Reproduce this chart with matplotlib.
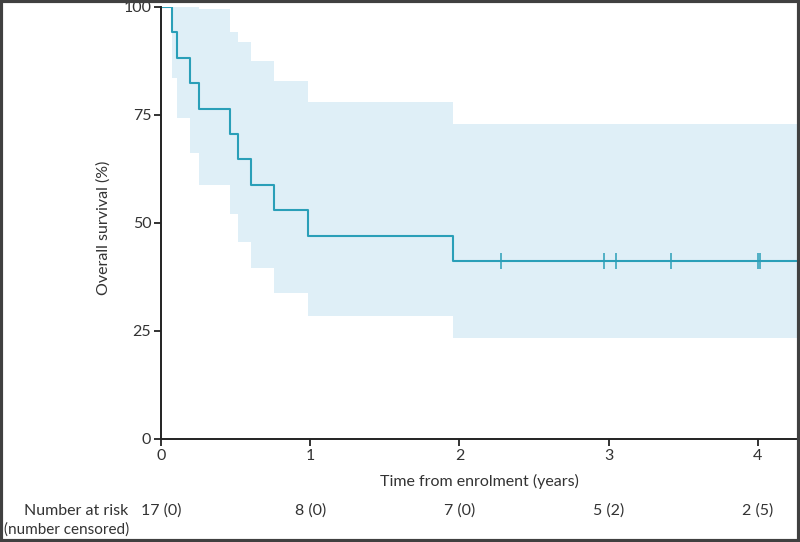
import matplotlib.pyplot as plt
from matplotlib.patches import Rectangle
from matplotlib.transforms import blended_transform_factory

plt.rcParams['font.family'] = ['Lato', 'DejaVu Sans']

# Kaplan-Meier step times (years) and survival (%)
event_times = [0, 0.076, 0.11, 0.195, 0.257, 0.465, 0.514, 0.605, 0.757, 0.983, 1.96]
survival = [100, 94.1, 88.2, 82.4, 76.5, 70.6, 64.7, 58.8, 52.9, 47.1, 41.2]
ci_upper = [100, 100, 100, 100, 99.5, 94.3, 92.0, 87.5, 82.9, 77.9, 72.9]
ci_lower = [100, 83.6, 74.4, 66.1, 58.8, 52.1, 45.7, 39.5, 33.9, 28.4, 23.4]
end_time = 4.27
censor_times = [2.28, 2.97, 3.05, 3.42, 4.0, 4.015]

risk_times = [0, 1, 2, 3, 4]
risk_labels = ['17 (0)', '8 (0)', '7 (0)', '5 (2)', '2 (5)']

line_color = '#2a9fb8'
band_color = '#dfeff7'
text_color = '#333333'
fs = 11.5

fig = plt.figure(figsize=(8, 5.42), dpi=100)
ax = fig.add_axes([161 / 800, 103 / 542, 636 / 800, 432 / 542])

t = event_times + [end_time]
s = survival + [survival[-1]]
up = ci_upper + [ci_upper[-1]]
lo = ci_lower + [ci_lower[-1]]

ax.fill_between(t[1:], lo[1:], up[1:], step='post', color=band_color, linewidth=0)
ax.step(t, s, where='post', color=line_color, linewidth=1.5)
ax.plot(censor_times, [survival[-1]] * len(censor_times), linestyle='none',
        marker='|', markersize=11.5, markeredgewidth=1.1, color=line_color)

ax.set_xlim(0, (797 - 161) / 149.2)
ax.set_ylim(0, 100)
ax.set_xticks([0, 1, 2, 3, 4])
ax.set_yticks([0, 25, 50, 75, 100])
ax.spines['top'].set_visible(False)
ax.spines['right'].set_visible(False)
for sp in ['left', 'bottom']:
    ax.spines[sp].set_color('#222222')
    ax.spines[sp].set_linewidth(1.4)
ax.tick_params(direction='out', length=5, width=1.3, colors='#222222',
               labelcolor=text_color, labelsize=fs, pad=2)
ax.set_xlabel('Time from enrolment (years)', fontsize=fs, color=text_color)
ax.set_ylabel('Overall survival (%)', fontsize=fs, color=text_color)
ax.xaxis.set_label_coords(0.5, (439 - 474) / 432)
ax.yaxis.set_label_coords((111 - 161) / 636, (439 - 228) / 432)

# number at risk table
risk_tr = blended_transform_factory(ax.transData, fig.transFigure)
for rt, lab in zip(risk_times, risk_labels):
    ax.text(rt, 1 - 511 / 542, lab, transform=risk_tr, ha='center', va='center',
            fontsize=fs, color=text_color, clip_on=False)
fig.text(128 / 800, 1 - 511 / 542, 'Number at risk', ha='right', va='center',
         fontsize=fs, color=text_color)
fig.text(4 / 800, 1 - 530 / 542, '(number censored)', ha='left', va='center',
         fontsize=fs - 0.5, color=text_color)

# outer frame of the image
fig.patches.append(Rectangle((0.0015, 0.002), 0.997, 0.996, transform=fig.transFigure,
                             fill=False, edgecolor='#404040', linewidth=3))

fig.savefig('out.png', dpi=100)
